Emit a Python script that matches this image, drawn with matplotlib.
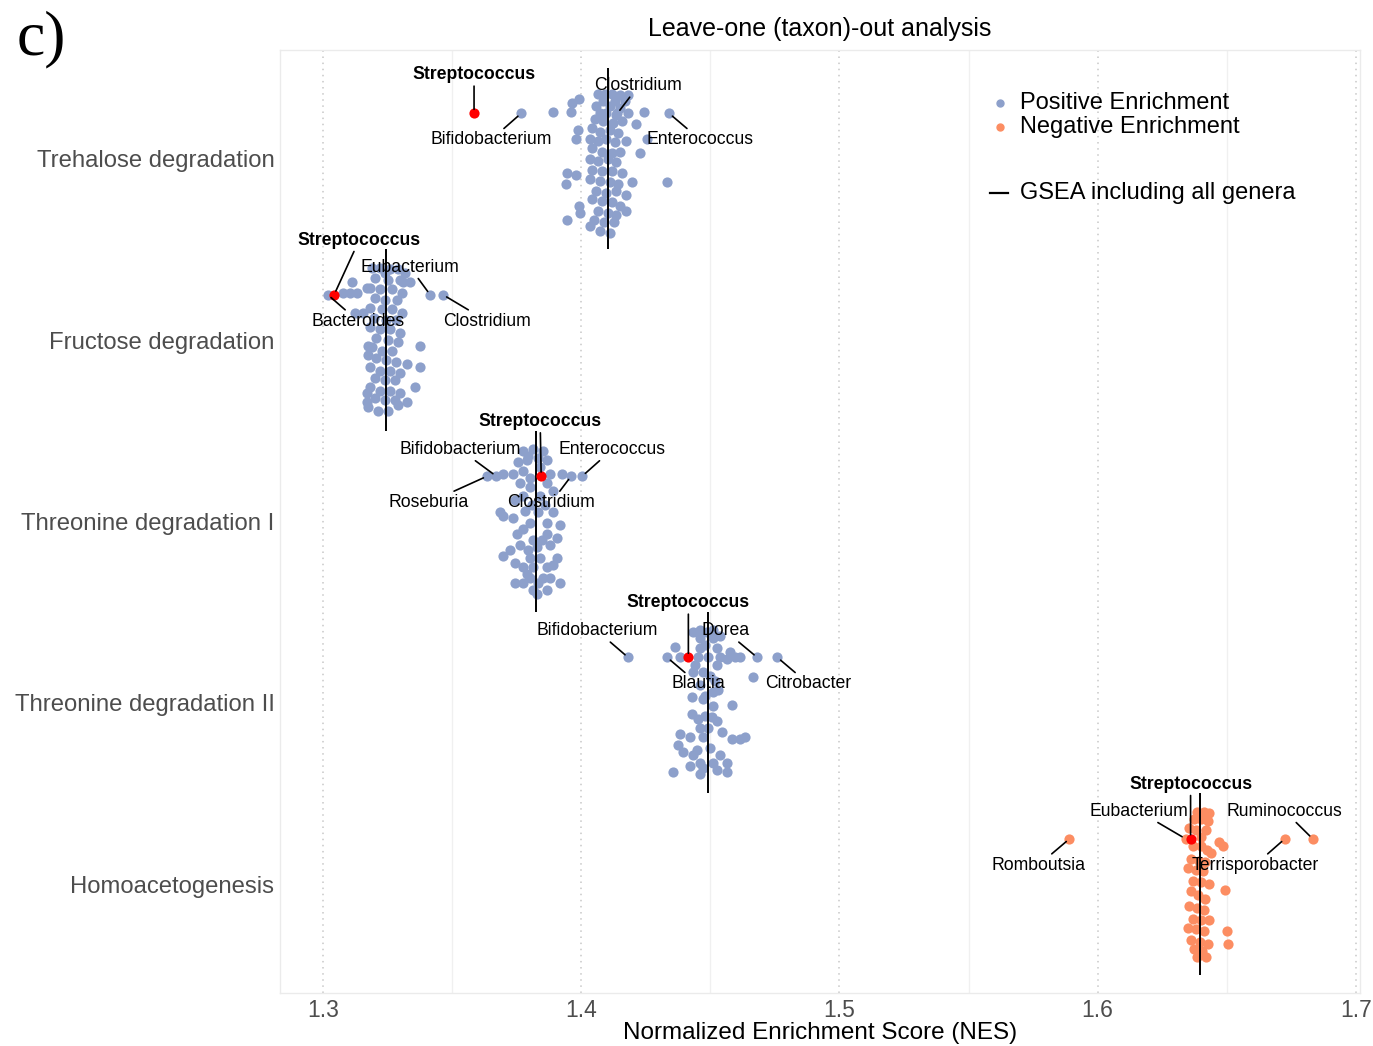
import numpy as np
import matplotlib
matplotlib.use("Agg")
import matplotlib.pyplot as plt

plt.rcParams['font.family'] = ['Liberation Sans', 'DejaVu Sans']

# pathways, top to bottom
pathways = ["Trehalose degradation", "Fructose degradation", "Threonine degradation I",
            "Threonine degradation II", "Homoacetogenesis"]
gsea_nes = [1.4105, 1.3244, 1.3826, 1.4492, 1.6395]   # GSEA including all genera
direction = ["Positive", "Positive", "Positive", "Positive", "Negative"]

# leave-one-out NES and vertical jitter
trehalose_nes = [1.3891, 1.3961, 1.3965, 1.3992, 1.3988, 1.3981, 1.3946, 1.3981, 1.3942, 1.3992,
                 1.3996, 1.3946, 1.4244, 1.4213, 1.4256, 1.4229, 1.4333, 1.4174, 1.4198, 1.4182,
                 1.4066, 1.4093, 1.4120, 1.4151, 1.4085, 1.4132, 1.4171, 1.4058, 1.4112, 1.4151,
                 1.4074, 1.4097, 1.4136, 1.4182, 1.4054, 1.4085, 1.4124, 1.4159, 1.4043, 1.4074,
                 1.4112, 1.4143, 1.4035, 1.4066, 1.4097, 1.4132, 1.4174, 1.4043, 1.4081, 1.4120,
                 1.4151, 1.4035, 1.4066, 1.4105, 1.4136, 1.4043, 1.4081, 1.4120, 1.4159, 1.4035,
                 1.4074, 1.4112, 1.4143, 1.4058, 1.4097, 1.4136, 1.4174, 1.4043, 1.4081, 1.4120,
                 1.4151, 1.4066, 1.4105, 1.4136, 1.4050, 1.4089, 1.4128, 1.4074, 1.4112, 1.4035]
trehalose_jit = [0.26, 0.26, 0.31, 0.33, 0.16, 0.11, -0.08, -0.09, -0.14, -0.26,
                 -0.30, -0.34, 0.26, 0.19, 0.11, 0.03, -0.13, -0.29, -0.13, 0.35,
                 0.36, 0.36, 0.36, 0.35, 0.32, 0.32, 0.32, 0.29, 0.29, 0.28,
                 0.25, 0.25, 0.24, 0.25, 0.22, 0.21, 0.20, 0.21, 0.17, 0.15,
                 0.16, 0.14, 0.11, 0.10, 0.11, 0.09, 0.10, 0.06, 0.04, 0.03,
                 0.04, 0.00, -0.01, 0.00, -0.02, -0.06, -0.07, -0.07, -0.08, -0.11,
                 -0.12, -0.13, -0.14, -0.18, -0.19, -0.18, -0.20, -0.22, -0.23, -0.24,
                 -0.26, -0.29, -0.30, -0.31, -0.34, -0.35, -0.35, -0.40, -0.41, -0.37]

fructose_nes = [1.3078, 1.3112, 1.3132, 1.3171, 1.3310, 1.3337, 1.3376, 1.3376, 1.3326, 1.3357,
                1.3326, 1.3171, 1.3174, 1.3174, 1.3171, 1.3124, 1.3155, 1.3105,
                1.3190, 1.3221, 1.3260, 1.3291, 1.3240, 1.3318, 1.3202, 1.3252, 1.3298, 1.3182,
                1.3221, 1.3267, 1.3306, 1.3202, 1.3240, 1.3287, 1.3182, 1.3229, 1.3267, 1.3306,
                1.3198, 1.3244, 1.3283, 1.3182, 1.3221, 1.3260, 1.3298, 1.3205, 1.3252, 1.3291,
                1.3190, 1.3229, 1.3267, 1.3205, 1.3244, 1.3283, 1.3182, 1.3221, 1.3260, 1.3298,
                1.3202, 1.3240, 1.3279, 1.3182, 1.3221, 1.3260, 1.3298, 1.3202, 1.3240, 1.3279,
                1.3174, 1.3213, 1.3252, 1.3291]
fructose_jit = [0.26, 0.32, 0.26, 0.29, 0.32, 0.32, -0.03, -0.15, -0.13, -0.26,
                -0.34, -0.29, -0.03, -0.08, -0.34, 0.15, 0.15, 0.26,
                0.40, 0.40, 0.39, 0.39, 0.37, 0.37, 0.34, 0.33, 0.33, 0.29,
                0.28, 0.28, 0.26, 0.23, 0.22, 0.22, 0.18, 0.17, 0.17, 0.15,
                0.12, 0.11, 0.11, 0.07, 0.06, 0.06, 0.04, 0.01, 0.00, -0.01,
                -0.04, -0.06, -0.06, -0.10, -0.11, -0.12, -0.15, -0.17, -0.17, -0.18,
                -0.21, -0.22, -0.22, -0.26, -0.28, -0.28, -0.29, -0.32, -0.33, -0.33,
                -0.37, -0.39, -0.39, -0.36]

threonine1_nes = [1.3775, 1.3814, 1.3853, 1.3795, 1.3833, 1.3791, 1.3868, 1.3756, 1.3841, 1.3775,
                  1.3698, 1.3736, 1.3880, 1.3926, 1.3802, 1.3764, 1.3868, 1.3802, 1.3891, 1.3775,
                  1.3841, 1.3744, 1.3810, 1.3860, 1.3783, 1.3833, 1.3891, 1.3686, 1.3698, 1.3736,
                  1.3802, 1.3868, 1.3919, 1.3775, 1.3752, 1.3868, 1.3907, 1.3814, 1.3849, 1.3764,
                  1.3880, 1.3829, 1.3725, 1.3795, 1.3698, 1.3802, 1.3841, 1.3907, 1.3744, 1.3891,
                  1.3775, 1.3814, 1.3868, 1.3791, 1.3853, 1.3802, 1.3880, 1.3744, 1.3775, 1.3833,
                  1.3919, 1.3814, 1.3868, 1.3829]
threonine1_jit = [0.39, 0.40, 0.39, 0.36, 0.35, 0.34, 0.34, 0.33, 0.30, 0.28,
                  0.26, 0.26, 0.26, 0.26, 0.24, 0.21, 0.21, 0.19, 0.17, 0.14,
                  0.14, 0.12, 0.09, 0.09, 0.06, 0.05, 0.05, 0.05, 0.03, 0.02,
                  -0.01, -0.01, -0.02, -0.04, -0.07, -0.07, -0.09, -0.10, -0.10, -0.13,
                  -0.13, -0.14, -0.16, -0.16, -0.19, -0.20, -0.20, -0.20, -0.23, -0.24,
                  -0.25, -0.25, -0.25, -0.29, -0.31, -0.31, -0.31, -0.34, -0.34, -0.34,
                  -0.34, -0.38, -0.38, -0.40]

threonine2_nes = [1.4461, 1.4488, 1.4512, 1.4434, 1.4539, 1.4461, 1.4512, 1.4481, 1.4364, 1.4461,
                  1.4527, 1.4578, 1.4384, 1.4453, 1.4492, 1.4539, 1.4597, 1.4616, 1.4566, 1.4527,
                  1.4442, 1.4473, 1.4434, 1.4500, 1.4667, 1.4519, 1.4461, 1.4531, 1.4512, 1.4430,
                  1.4481, 1.4473, 1.4585, 1.4512, 1.4430, 1.4481, 1.4508, 1.4453, 1.4527, 1.4492,
                  1.4461, 1.4547, 1.4384, 1.4422, 1.4473, 1.4636, 1.4585, 1.4616, 1.4376, 1.4500,
                  1.4450, 1.4395, 1.4434, 1.4539, 1.4461, 1.4512, 1.4566, 1.4422, 1.4473, 1.4527,
                  1.4566, 1.4357, 1.4461]
threonine2_jit = [0.40, 0.39, 0.40, 0.39, 0.37, 0.36, 0.36, 0.32, 0.31, 0.30,
                  0.30, 0.28, 0.25, 0.25, 0.25, 0.25, 0.25, 0.25, 0.24, 0.21,
                  0.21, 0.17, 0.17, 0.15, 0.14, 0.12, 0.10, 0.07, 0.06, 0.03,
                  0.04, 0.02, -0.01, -0.02, -0.06, -0.07, -0.08, -0.09, -0.10, -0.14,
                  -0.14, -0.16, -0.17, -0.19, -0.19, -0.19, -0.20, -0.20, -0.23, -0.25,
                  -0.26, -0.27, -0.29, -0.29, -0.33, -0.33, -0.33, -0.35, -0.36, -0.37,
                  -0.38, -0.38, -0.39]

homoaceto_nes = [1.6384, 1.6411, 1.6430, 1.6372, 1.6399, 1.6426, 1.6353, 1.6380, 1.6419, 1.6399,
                 1.6368, 1.6399, 1.6469, 1.6484, 1.6438, 1.6422, 1.6360, 1.6391, 1.6415, 1.6349,
                 1.6380, 1.6407, 1.6368, 1.6399, 1.6430, 1.6492, 1.6360, 1.6388, 1.6415, 1.6353,
                 1.6384, 1.6411, 1.6368, 1.6399, 1.6430, 1.6349, 1.6380, 1.6411, 1.6500, 1.6360,
                 1.6395, 1.6426, 1.6504, 1.6372, 1.6403, 1.6384, 1.6419]
homoaceto_jit = [0.40, 0.40, 0.39, 0.36, 0.36, 0.35, 0.31, 0.30, 0.30, 0.26,
                 0.21, 0.21, 0.23, 0.21, 0.17, 0.19, 0.14, 0.13, 0.12, 0.09,
                 0.08, 0.07, 0.02, 0.01, 0.00, -0.03, -0.04, -0.06, -0.08, -0.12,
                 -0.13, -0.14, -0.19, -0.20, -0.20, -0.24, -0.25, -0.26, -0.26, -0.31,
                 -0.32, -0.33, -0.33, -0.36, -0.37, -0.40, -0.40]

# genera that are labelled, with their NES (Streptococcus is highlighted)
trehalose_genus = ["Streptococcus", "Bifidobacterium", "Clostridium", "Enterococcus"]
trehalose_genus_nes = [1.3585, 1.3767, 1.4140, 1.4341]
fructose_genus = ["Streptococcus", "Bacteroides", "Eubacterium", "Clostridium"]
fructose_genus_nes = [1.3043, 1.3019, 1.3415, 1.3465]
threonine1_genus = ["Streptococcus", "Roseburia", "Bifidobacterium", "Clostridium", "Enterococcus"]
threonine1_genus_nes = [1.3845, 1.3636, 1.3671, 1.3961, 1.4004]
threonine2_genus = ["Streptococcus", "Bifidobacterium", "Blautia", "Dorea", "Citrobacter"]
threonine2_genus_nes = [1.4415, 1.4182, 1.4333, 1.4682, 1.4760]
homoaceto_genus = ["Streptococcus", "Romboutsia", "Eubacterium", "Terrisporobacter", "Ruminococcus"]
homoaceto_genus_nes = [1.6360, 1.5891, 1.6341, 1.6725, 1.6833]

# label placement (x in NES, offset from pathway row)
label_pos = [
    [(1.3585, 0.463), (1.3651, 0.105), (1.4221, 0.402), (1.4461, 0.105)],
    [(1.3140, 0.551), (1.3136, 0.105), (1.3337, 0.402), (1.3636, 0.105)],
    [(1.3841, 0.551), (1.3411, 0.105), (1.3531, 0.397), (1.3884, 0.105), (1.4120, 0.397)],
    [(1.4415, 0.551), (1.4062, 0.397), (1.4453, 0.105), (1.4558, 0.397), (1.4880, 0.105)],
    [(1.6360, 0.551), (1.5771, 0.105), (1.6159, 0.402), (1.6609, 0.105), (1.6725, 0.402)],
]
highlight_dy = 0.25

all_nes = [trehalose_nes, fructose_nes, threonine1_nes, threonine2_nes, homoaceto_nes]
all_jit = [trehalose_jit, fructose_jit, threonine1_jit, threonine2_jit, homoaceto_jit]
all_genus = [trehalose_genus, fructose_genus, threonine1_genus, threonine2_genus, homoaceto_genus]
all_genus_nes = [trehalose_genus_nes, fructose_genus_nes, threonine1_genus_nes,
                 threonine2_genus_nes, homoaceto_genus_nes]

colors = {"Positive": "#8DA0CB", "Negative": "#FC8D62"}
pt_size = 54

fig = plt.figure(figsize=(13.73, 10.46), dpi=100)
ax = fig.add_axes([0.2039, 0.0507, 0.7866, 0.9015])

n = len(pathways)
for i, name in enumerate(pathways):
    row = n - i
    col = colors[direction[i]]
    ax.scatter(all_nes[i], row + np.array(all_jit[i]), s=pt_size, color=col, lw=0, zorder=2)
    gx = all_genus_nes[i]
    # non-highlighted labelled genera
    ax.scatter(gx[1:], [row + highlight_dy] * (len(gx) - 1), s=pt_size, color=col, lw=0, zorder=2)
    ax.vlines(gsea_nes[i], row - 0.5, row + 0.5, color="black", lw=1.4, zorder=3)
    ax.scatter([gx[0]], [row + highlight_dy], s=pt_size, color="#FF0000", lw=0, zorder=4)
    for j, genus in enumerate(all_genus[i]):
        lx, ldy = label_pos[i][j]
        ax.annotate(genus, xy=(gx[j], row + highlight_dy), xytext=(lx, row + ldy),
                    ha="center", va="center", fontsize=12.7,
                    fontweight="bold" if j == 0 else "normal", color="black", zorder=5,
                    arrowprops=dict(arrowstyle="-", color="black", lw=1.2,
                                    shrinkA=0, shrinkB=3))

ax.set_xlim(1.28333, 1.7016)
ax.set_ylim(0.4, 5.6)
ax.set_xticks([1.3, 1.4, 1.5, 1.6, 1.7])
ax.set_xticklabels(["1.3", "1.4", "1.5", "1.6", "1.7"])
ax.set_xticks([1.35, 1.45, 1.55, 1.65], minor=True)
ax.set_yticks(range(n, 0, -1))
ax.set_yticklabels(pathways)
ax.tick_params(axis="both", which="both", length=0)
ax.tick_params(axis="y", labelsize=17.2, labelcolor="#4D4D4D", pad=4)
ax.tick_params(axis="x", labelsize=16.5, labelcolor="#4D4D4D", pad=4)
ax.grid(which="major", axis="x", linestyle=(0, (1, 3)), color="#C8C8C8", lw=1.1)
ax.grid(which="minor", axis="x", linestyle="-", color="#F0F0F0", lw=1.0)
ax.set_axisbelow(True)
for sp in ax.spines.values():
    sp.set_color("#EBEBEB")
    sp.set_linewidth(1.0)

ax.set_xlabel("Normalized Enrichment Score (NES)", fontsize=17.5, labelpad=0)
ax.set_title("Leave-one (taxon)-out analysis", fontsize=18, pad=10)

# legend
ax.plot([0.6667], [0.9438], "o", ms=5, color=colors["Positive"], transform=ax.transAxes)
ax.plot([0.6667], [0.9183], "o", ms=5, color=colors["Negative"], transform=ax.transAxes)
ax.plot([0.6574, 0.6741], [0.8484, 0.8484], "-", color="black", lw=1.6, transform=ax.transAxes)
ax.text(0.6852, 0.9438, "Positive Enrichment", transform=ax.transAxes, va="center", fontsize=17)
ax.text(0.6852, 0.9183, "Negative Enrichment", transform=ax.transAxes, va="center", fontsize=17)
ax.text(0.6852, 0.8484, "GSEA including all genera", transform=ax.transAxes, va="center",
        fontsize=17)

fig.text(0.012, 0.962, "c)", fontsize=46, family="Liberation Serif", va="center", ha="left")

fig.savefig("out.png", dpi=100)
